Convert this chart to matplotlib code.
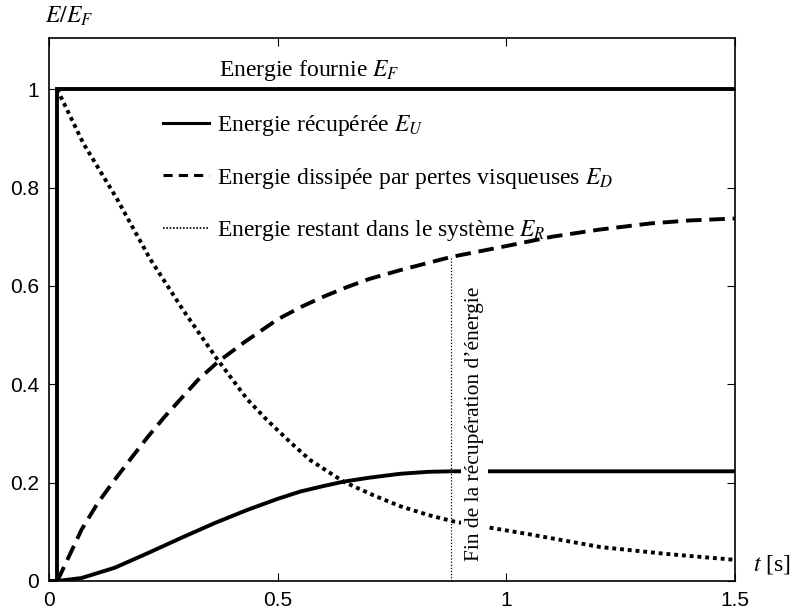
import numpy as np
import matplotlib.pyplot as plt
from matplotlib.lines import Line2D

plt.rcParams['mathtext.fontset'] = 'stix'

# supplied energy (step)
t_F = [0, 0.017, 0.017, 1.5]
E_F = [0, 0, 1, 1]

# recovered energy
t_U = [0, 0.018, 0.071, 0.144, 0.217, 0.29, 0.363, 0.435, 0.5, 0.55, 0.6,
       0.644, 0.7, 0.768, 0.83, 0.88, 1.5]
E_U = [0, 0, 0.006, 0.027, 0.057, 0.088, 0.118, 0.145, 0.167, 0.182, 0.193,
       0.202, 0.21, 0.218, 0.222, 0.223, 0.223]

# viscous losses
t_D = [0.018, 0.027, 0.071, 0.107, 0.144, 0.18, 0.217, 0.253, 0.29, 0.326,
       0.37, 0.428, 0.5, 0.553, 0.6, 0.65, 0.7, 0.768, 0.83, 0.88, 1.0,
       1.1, 1.2, 1.315, 1.4, 1.5]
E_D = [0, 0.017, 0.104, 0.159, 0.206, 0.25, 0.294, 0.334, 0.372, 0.409,
       0.446, 0.486, 0.532, 0.558, 0.578, 0.597, 0.614, 0.632, 0.647, 0.659,
       0.681, 0.70, 0.714, 0.727, 0.733, 0.737]

# energy left in the system
t_R = [0.018, 0.024, 0.075, 0.148, 0.221, 0.294, 0.367, 0.433, 0.476, 0.53,
       0.571, 0.644, 0.71, 0.768, 0.83, 0.885, 0.954, 1.05, 1.206, 1.35, 1.5]
E_R = [1.0, 0.988, 0.89, 0.778, 0.655, 0.55, 0.452, 0.37, 0.328, 0.28,
       0.246, 0.202, 0.174, 0.152, 0.134, 0.121, 0.11, 0.095, 0.069, 0.055,
       0.043]

t_end = 0.88
E_D_end = 0.659

xticks = [0, 0.5, 1, 1.5]
xtick_labels = ['0', '0.5', '1', '1.5']
yticks = [0, 0.2, 0.4, 0.6, 0.8, 1]
ytick_labels = ['0', '0.2', '0.4', '0.6', '0.8', '1']

serif = 'Liberation Serif'
sans = 'Liberation Sans'

fig = plt.figure(figsize=(7.95, 6.15), dpi=100)
ax = fig.add_axes([0.0616, 0.0553, 0.8629, 0.8829])

lw = 2.8
ax.plot(t_F, E_F, color='black', lw=lw, solid_joinstyle='miter')
ax.plot(t_U, E_U, color='black', lw=lw)
ax.plot(t_D, E_D, color='black', lw=lw, linestyle=(0, (4, 2)))
ax.plot(t_R, E_R, color='black', lw=lw, linestyle=(0, (1, 1)))

# end of energy recovery
ax.vlines(t_end, 0, E_D_end, colors='black', lw=0.9, linestyles=(0, (1, 1.5)))
ax.text(0.930, 0.32, "Fin de la récupération d\u2019énergie", rotation=90,
        ha='center', va='center', fontsize=15.5, family=serif,
        bbox=dict(facecolor='white', edgecolor='none', pad=3), zorder=5)

ax.text(0.372, 1.026, r"Energie fournie $E_F$", ha='left', va='baseline',
        fontsize=17, family=serif)

handles = [Line2D([], [], color='black', lw=2.2),
           Line2D([], [], color='black', lw=2.2, linestyle=(0, (3, 2))),
           Line2D([], [], color='black', lw=1.2, linestyle=(0, (1, 1)))]
labels = [r"Energie récupérée $E_U$",
          r"Energie dissipée par pertes visqueuses $E_D$",
          r"Energie restant dans le système $E_R$"]
ax.legend(handles, labels, loc='upper left', bbox_to_anchor=(0.166, 0.861),
          frameon=False, borderpad=0, borderaxespad=0, handlelength=1.95,
          handletextpad=0.33, labelspacing=1.15,
          prop={'family': serif, 'size': 17})

ax.set_xlim(0, 1.5)
ax.set_ylim(0, 1.104)
ax.set_xticks(xticks)
ax.set_xticklabels(xtick_labels, family=sans, fontsize=15)
ax.set_yticks(yticks)
ax.set_yticklabels(ytick_labels, family=sans, fontsize=15)
ax.tick_params(direction='in', top=True, right=True, length=6, width=0.8,
               pad=7)
for s in ax.spines.values():
    s.set_linewidth(1.2)

ax.text(0.03, 1.04, r"$E/E_F$", transform=ax.transAxes, ha='center',
        va='center', fontsize=17)
ax.text(1.026, 0.03, r"$t$ [s]", transform=ax.transAxes, ha='left',
        va='center', fontsize=17, family=serif)

fig.savefig('out.png', dpi=100)
